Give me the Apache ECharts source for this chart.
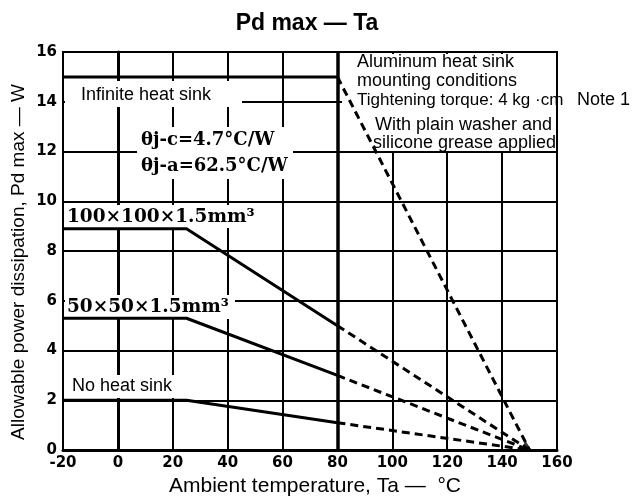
<!DOCTYPE html>
<html>
<head>
<meta charset="utf-8">
<script src="https://cdn.jsdelivr.net/npm/echarts@6/dist/echarts.min.js"></script>
<style>html,body{margin:0;padding:0;background:#fff}#c{width:634px;height:502px}</style>
</head>
<body>
<div id="c"></div>
<script>
// Breakpoints of the derating curves (ambient temperature, °C)
const temps = [-20, 25, 80, 150];
// Allowable power dissipation (W) at those temperatures
const infinitePd = [15, 15, 15, 0];
const sink100Pd = [8.9, 8.9, 5.0, 0];
const sink50Pd = [5.3, 5.3, 3.0, 0];
const noSinkPd = [2.0, 2.0, 1.1, 0];
// Heavy boundary line and convergence marker
const boundaryTa = 80;
const convergeMark = [[148.6, 0.17]];
// Axis ticks
const xTicks = { min: -20, max: 160, step: 20 };
const yTicks = { min: 0, max: 16, step: 2 };

const SANS = '"Liberation Sans", Arial, sans-serif';
const SERIF = '"DejaVu Serif", serif';
const TICKFONT = '"DejaVu Sans", sans-serif';

function solidPart(vals) { return temps.slice(0, 3).map((t, i) => [t, vals[i]]); }
function dashPart(vals) { return temps.slice(2).map((t, i) => [t, vals[i + 2]]); }

const curves = [infinitePd, sink100Pd, sink50Pd, noSinkPd];
const series = [];
curves.forEach((c) => {
  series.push({
    type: 'line', data: solidPart(c), symbol: 'none', silent: true, z: 3,
    lineStyle: { color: '#000', width: 3 }
  });
  series.push({
    type: 'line', data: dashPart(c), symbol: 'none', silent: true, z: 3,
    lineStyle: { color: '#000', width: 3, type: [8, 5] }
  });
});
series.push({
  type: 'line', data: [], silent: true, z: 3,
  markLine: {
    silent: true, symbol: 'none', label: { show: false },
    lineStyle: { color: '#000', width: 3.5, type: 'solid' },
    data: [{ xAxis: boundaryTa }]
  }
});
series.push({
  type: 'scatter', data: convergeMark, symbol: 'triangle', symbolSize: [12, 9],
  itemStyle: { color: '#000' }, silent: true, z: 4
});

function txt(x, y, text, font, extra) {
  return Object.assign({ type: 'text', z: 1, x: x, y: y,
    style: { text: text, font: font, fill: '#000', verticalAlign: 'middle' } }, extra || {});
}
function box(x, y, w, h) {
  return { type: 'rect', z: 1, shape: { x: x, y: y, width: w, height: h }, style: { fill: '#fff' } };
}

const chart = echarts.init(document.getElementById('c'), null, { renderer: 'canvas' });
chart.setOption({
  animation: false,
  backgroundColor: '#fff',
  title: {
    text: 'Pd max — Ta', left: 302, top: 7, textAlign: 'center',
    textStyle: { fontFamily: SANS, fontWeight: 'bold', fontSize: 23, color: '#000' }
  },
  grid: { left: 63, right: 77, top: 52, bottom: 49, show: true, borderColor: '#000', borderWidth: 2, backgroundColor: 'transparent' },
  xAxis: {
    type: 'value', min: xTicks.min, max: xTicks.max, interval: xTicks.step,
    name: 'Ambient temperature, Ta —  °C', nameLocation: 'middle', nameGap: 24,
    nameTextStyle: { fontFamily: SANS, fontSize: 21, color: '#000', padding: [0, 0, 0, 10] },
    axisLine: { lineStyle: { color: '#000', width: 3 } },
    axisTick: { show: false },
    axisLabel: { fontFamily: TICKFONT, fontWeight: 'bold', fontSize: 15, color: '#000', margin: 6 },
    splitLine: { show: true, lineStyle: { color: '#000', width: 2 } }
  },
  yAxis: {
    type: 'value', min: yTicks.min, max: yTicks.max, interval: yTicks.step,
    axisLine: { show: true, lineStyle: { color: '#000', width: 3 } },
    axisTick: { show: false },
    axisLabel: { fontFamily: TICKFONT, fontWeight: 'bold', fontSize: 15, color: '#000', margin: 6 },
    splitLine: { show: true, lineStyle: { color: '#000', width: 2 } }
  },
  graphic: [
    txt(19, 262, 'Allowable power dissipation, Pd max — W', '19px ' + SANS,
      { rotation: Math.PI / 2, style: { text: 'Allowable power dissipation, Pd max — W', font: '19px ' + SANS, fill: '#000', align: 'center', verticalAlign: 'middle' } }),
    box(65, 81, 177, 26),
    txt(81, 95, 'Infinite heat sink', '18px ' + SANS),
    box(137, 127, 156, 52),
    txt(141, 140, 'θj-c=4.7°C/W', 'bold 18px ' + SERIF),
    txt(141, 166, 'θj-a=62.5°C/W', 'bold 18px ' + SERIF),
    box(342, 54, 214, 97),
    txt(357, 62, 'Aluminum heat sink', '18px ' + SANS),
    txt(357, 81, 'mounting conditions', '18px ' + SANS),
    txt(357, 100, 'Tightening torque: 4 kg ·cm', '17px ' + SANS),
    txt(375, 125, 'With plain washer and', '18px ' + SANS),
    txt(373, 143, 'silicone grease applied', '18px ' + SANS),
    txt(577, 100, 'Note 1', '18px ' + SANS),
    box(65, 205, 192, 23),
    txt(67, 217, '100×100×1.5mm³', 'bold 18.5px ' + SERIF),
    box(65, 295, 170, 24),
    txt(67, 307, '50×50×1.5mm³', 'bold 18.5px ' + SERIF),
    box(65, 375, 115, 23),
    txt(72, 386, 'No heat sink', '18px ' + SANS)
  ],
  series: series
});
</script>
</body>
</html>
